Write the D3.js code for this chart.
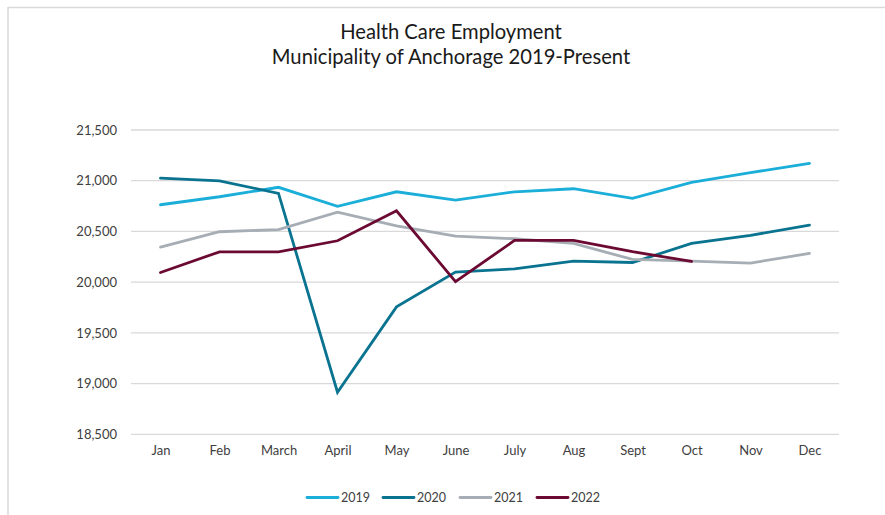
<!DOCTYPE html>
<html>
<head>
<meta charset="utf-8">
<script src="https://cdn.jsdelivr.net/npm/d3@7"></script>
<style>
  html, body { margin: 0; padding: 0; background: #fff; }
  svg { display: block; }
  text { font-family: Lato, "Open Sans", sans-serif; }
</style>
</head>
<body>
<svg id="chart" width="885" height="515"></svg>
<script>
const months = ["Jan","Feb","March","April","May","June","July","Aug","Sept","Oct","Nov","Dec"];
const seriesNames = ["2019","2020","2021","2022"];
const values2019 = [20763, 20842, 20935, 20747, 20891, 20809, 20891, 20921, 20826, 20984, 21080, 21170];
const values2020 = [21026, 20999, 20875, 18915, 19756, 20099, 20131, 20207, 20194, 20382, 20461, 20563];
const values2021 = [20346, 20497, 20518, 20690, 20555, 20454, 20428, 20382, 20224, 20207, 20188, 20283];
const values2022 = [20095, 20299, 20299, 20408, 20704, 20005, 20411, 20411, 20300, 20204];
const yTicks = [18500, 19000, 19500, 20000, 20500, 21000, 21500];
const colors = ["#1aaed8", "#0a7390", "#a6adb4", "#6b0932"];
const titleLines = ["Health Care Employment", "Municipality of Anchorage 2019-Present"];

const allSeries = [values2019, values2020, values2021, values2022];
const svg = d3.select("#chart");

// chart-area border (top and left visible)
svg.append("line").attr("x1", 8).attr("x2", 885).attr("y1", 7.5).attr("y2", 7.5)
  .attr("stroke", "#d9d9d9").attr("stroke-width", 1.5);
svg.append("line").attr("x1", 8).attr("x2", 8).attr("y1", 7).attr("y2", 515)
  .attr("stroke", "#d9d9d9").attr("stroke-width", 1.5);

const x = d3.scalePoint().domain(months).range([160.5, 809.5]);
const y = d3.scaleLinear().domain([18500, 21500]).range([434.3, 130]);

// gridlines
svg.append("g").selectAll("line").data(yTicks).join("line")
  .attr("x1", 131).attr("x2", 839)
  .attr("y1", d => y(d)).attr("y2", d => y(d))
  .attr("stroke", "#d9d9d9").attr("stroke-width", 1.3);

// y axis
const yAxis = d3.axisLeft(y).tickValues(yTicks).tickFormat(d3.format(",")).tickSize(0).tickPadding(0);
const yg = svg.append("g").attr("transform", "translate(117,0)").call(yAxis);
yg.select(".domain").remove();
yg.selectAll("text").attr("font-size", 13).attr("fill", "#404040")
  .attr("font-family", "Lato, 'Open Sans', sans-serif");

// x axis
const xAxis = d3.axisBottom(x).tickSize(0).tickPadding(0);
const xg = svg.append("g").attr("transform", "translate(0,446)").call(xAxis);
xg.select(".domain").remove();
xg.selectAll("text").attr("font-size", 13).attr("fill", "#404040")
  .attr("font-family", "Lato, 'Open Sans', sans-serif");

// lines
const line = d3.line().x((d, i) => x(months[i])).y(d => y(d));
svg.append("g").selectAll("path").data(allSeries).join("path")
  .attr("d", d => line(d))
  .attr("fill", "none")
  .attr("stroke", (d, i) => colors[i])
  .attr("stroke-width", 2.8)
  .attr("stroke-linejoin", "miter")
  .attr("stroke-linecap", "round");

// title
svg.append("g").selectAll("text").data(titleLines).join("text")
  .attr("x", 451).attr("y", (d, i) => 39 + i * 24.5)
  .attr("text-anchor", "middle")
  .attr("font-size", 20.2)
  .attr("fill", "#1a1a1a")
  .text(d => d);

// legend
const legendX = [307, 383, 460, 537];
const lg = svg.append("g").selectAll("g").data(seriesNames).join("g")
  .attr("transform", (d, i) => `translate(${legendX[i]},497.5)`);
lg.append("line").attr("x1", 0).attr("x2", 31).attr("y1", 0).attr("y2", 0)
  .attr("stroke", (d, i) => colors[i]).attr("stroke-width", 2.8).attr("stroke-linecap", "round");
lg.append("text").attr("x", 34).attr("y", 4.5).attr("font-size", 12.5).attr("fill", "#404040")
  .text(d => d);
</script>
</body>
</html>
